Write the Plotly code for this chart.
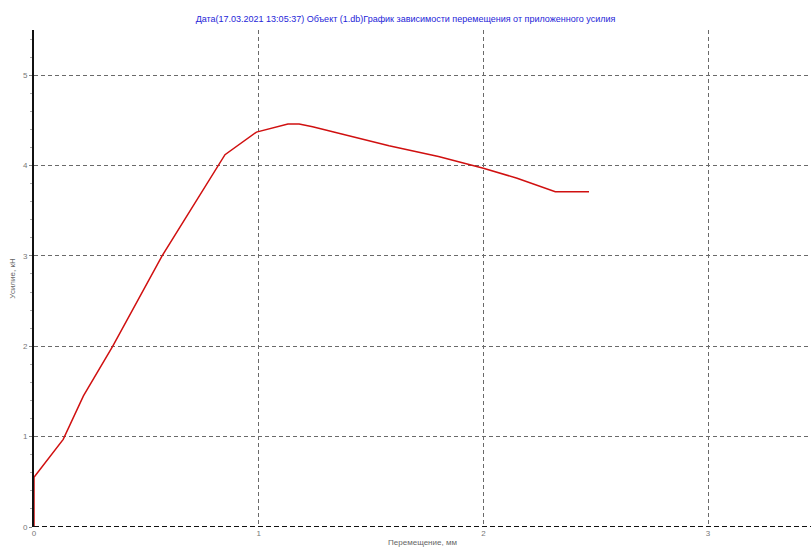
import plotly.graph_objects as go

# Displacement (mm) and applied force (kN) for the test record
displacement = [0.0, 0.0, 0.13, 0.22, 0.35, 0.46, 0.57, 0.70, 0.82, 0.85,
                0.99, 1.13, 1.18, 1.24, 1.58, 1.80, 2.00, 2.15, 2.32, 2.47]
force = [0.0, 0.55, 0.97, 1.45, 2.00, 2.50, 3.00, 3.52, 4.00, 4.12,
         4.37, 4.46, 4.46, 4.43, 4.22, 4.10, 3.97, 3.86, 3.71, 3.71]

x_ticks = [0, 1, 2, 3]
y_ticks = [0, 1, 2, 3, 4, 5]

title_text = ("Дата(17.03.2021 13:05:37) Объект (1.db)График зависимости "
              "перемещения от приложенного усилия")
x_title = "Перемещение, мм"
y_title = "Усилие, кН"

fig = go.Figure()
fig.add_trace(go.Scatter(
    x=displacement, y=force, mode="lines",
    line=dict(color="#d01010", width=1.5),
    showlegend=False, hoverinfo="x+y",
))

# dashed baseline along the x axis
fig.add_shape(type="line", xref="paper", yref="y", x0=0, x1=1, y0=0, y1=0,
              line=dict(color="#111111", width=2, dash="5px,3px"), layer="above")

fig.update_layout(
    width=811, height=552,
    margin=dict(l=34, r=0, t=30, b=25),
    paper_bgcolor="white", plot_bgcolor="white",
    font=dict(family="Liberation Sans, Arial, sans-serif", size=8, color="#777777"),
    title=dict(text=title_text, x=0.5, xanchor="center", y=0.965, yanchor="middle",
               font=dict(size=9, color="#2525d8")),
)
fig.update_xaxes(
    range=[0, 3.458], tickvals=x_ticks, ticktext=[str(v) for v in x_ticks],
    showgrid=True, gridcolor="#6a6a6a", griddash="4px,3px", gridwidth=1,
    zeroline=False, showline=False, ticks="",
    title=dict(text=x_title, standoff=2, font=dict(size=8, color="#666666")),
)
fig.update_yaxes(
    range=[0, 5.5], tickvals=y_ticks, ticktext=[str(v) for v in y_ticks],
    showgrid=True, gridcolor="#6a6a6a", griddash="4px,3px", gridwidth=1,
    zeroline=False, showline=True, linecolor="#111111", linewidth=2,
    ticks="outside", ticklen=3, tickcolor="#888888",
    minor=dict(dtick=0.2, ticks="outside", ticklen=2, tickcolor="#aaaaaa", showgrid=False),
    title=dict(text=y_title, standoff=6, font=dict(size=8, color="#666666")),
)

fig.write_html("out.html")
